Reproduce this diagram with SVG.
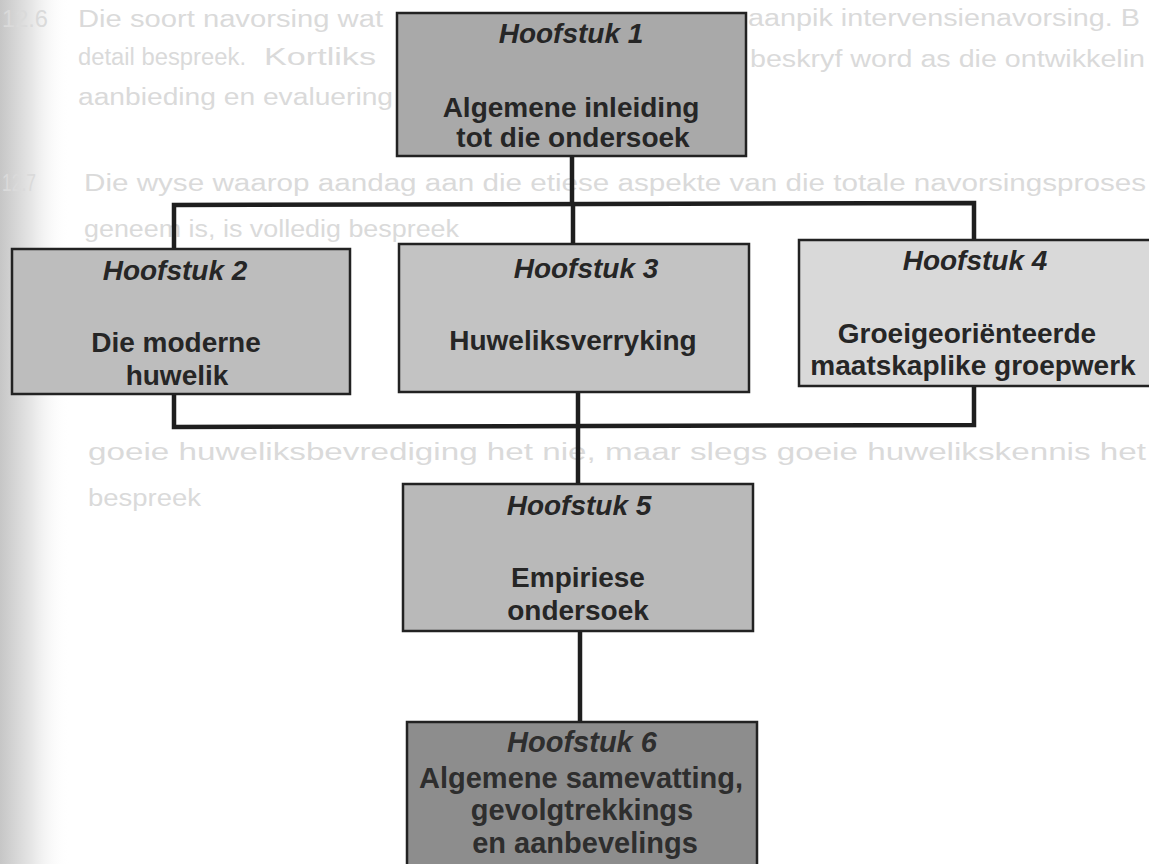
<svg xmlns="http://www.w3.org/2000/svg" width="1149" height="864" viewBox="0 0 1149 864">
  <defs>
    <linearGradient id="shadow" x1="0" y1="0" x2="1" y2="0">
      <stop offset="0" stop-color="#c6c6c6"/>
      <stop offset="0.45" stop-color="#e6e6e6"/>
      <stop offset="1" stop-color="#ffffff" stop-opacity="0"/>
    </linearGradient>
  </defs>
  <style>
    .ghost { font-family: "Liberation Sans", Arial, sans-serif; font-size: 23px; fill: #dadada; }
    .box { stroke: #222222; stroke-width: 2.5; }
    .head { font-family: "Liberation Sans", Arial, sans-serif; font-size: 28px; font-weight: bold; font-style: italic; fill: #262626; text-anchor: middle; }
    .body { font-family: "Liberation Sans", Arial, sans-serif; font-size: 28px; font-weight: bold; fill: #262626; text-anchor: middle; }
    .big { font-size: 29px; fill: #2e2e2e; }
    .conn { stroke: #1e1e1e; stroke-width: 4.5; fill: none; stroke-linejoin: miter; }
  </style>

  <rect x="0" y="0" width="1149" height="864" fill="#ffffff"/>
  <rect x="0" y="0" width="70" height="864" fill="url(#shadow)"/>

  <g id="background-text">
    <text class="ghost" x="2" y="27" textLength="46" lengthAdjust="spacingAndGlyphs">12.6</text>
    <text class="ghost" x="78" y="27" textLength="305" lengthAdjust="spacingAndGlyphs">Die soort navorsing wat</text>
    <text class="ghost" x="748" y="26" textLength="392" lengthAdjust="spacingAndGlyphs">aanpik intervensienavorsing. B</text>
    <text class="ghost" x="78" y="65" textLength="168" lengthAdjust="spacingAndGlyphs">detail bespreek.</text>
    <text class="ghost" x="264" y="65" textLength="112" lengthAdjust="spacingAndGlyphs">Kortliks</text>
    <text class="ghost" x="750" y="67" textLength="395" lengthAdjust="spacingAndGlyphs">beskryf word as die ontwikkelin</text>
    <text class="ghost" x="78" y="105" textLength="315" lengthAdjust="spacingAndGlyphs">aanbieding en evaluering</text>
    <text class="ghost" x="2" y="191" textLength="34" lengthAdjust="spacingAndGlyphs">12.7</text>
    <text class="ghost" x="84" y="191" textLength="1062" lengthAdjust="spacingAndGlyphs">Die wyse waarop aandag aan die etiese aspekte van die totale navorsingsproses</text>
    <text class="ghost" x="84" y="237" textLength="375" lengthAdjust="spacingAndGlyphs">geneem is, is volledig bespreek</text>
    <text class="ghost" x="88" y="460" textLength="1058" lengthAdjust="spacingAndGlyphs">goeie huweliksbevrediging het nie, maar slegs goeie huwelikskennis het</text>
    <text class="ghost" x="88" y="506" textLength="113" lengthAdjust="spacingAndGlyphs">bespreek</text>
  </g>

  <g id="connectors">
    <polyline class="conn" points="572,156 572,205"/>
    <polyline class="conn" points="174,249 174,205 974,203 974,240"/>
    <polyline class="conn" points="573,205 573,244"/>
    <polyline class="conn" points="174,394 174,427 974,425 974,386"/>
    <polyline class="conn" points="578,392 578,484"/>
    <polyline class="conn" points="580,631 580,722"/>
  </g>

  <g id="node-1">
    <rect class="box" x="397" y="13" width="349" height="143" fill="#a9a9a9"/>
    <text class="head" x="571" y="43">Hoofstuk 1</text>
    <text class="body" x="571" y="117">Algemene inleiding</text>
    <text class="body" x="573" y="147">tot die ondersoek</text>
  </g>

  <g id="node-2">
    <rect class="box" x="12" y="249" width="338" height="145" fill="#bdbdbd"/>
    <text class="head" x="175" y="280">Hoofstuk 2</text>
    <text class="body" x="176" y="352">Die moderne</text>
    <text class="body" x="177" y="385">huwelik</text>
  </g>

  <g id="node-3">
    <rect class="box" x="399" y="244" width="350" height="148" fill="#c3c3c3"/>
    <text class="head" x="586" y="278">Hoofstuk 3</text>
    <text class="body" x="573" y="350">Huweliksverryking</text>
  </g>

  <g id="node-4">
    <rect class="box" x="799" y="240" width="354" height="146" fill="#d9d9d9"/>
    <text class="head" x="975" y="270">Hoofstuk 4</text>
    <text class="body" x="967" y="343">Groeigeoriënteerde</text>
    <text class="body" x="973" y="375">maatskaplike groepwerk</text>
  </g>

  <g id="node-5">
    <rect class="box" x="403" y="484" width="350" height="147" fill="#b9b9b9"/>
    <text class="head" x="579" y="515">Hoofstuk 5</text>
    <text class="body" x="578" y="587">Empiriese</text>
    <text class="body" x="578" y="620">ondersoek</text>
  </g>

  <g id="node-6">
    <rect class="box" x="407" y="722" width="350" height="150" fill="#8d8d8d"/>
    <text class="head big" x="582" y="752">Hoofstuk 6</text>
    <text class="body big" x="581" y="788">Algemene samevatting,</text>
    <text class="body big" x="582" y="820">gevolgtrekkings</text>
    <text class="body big" x="585" y="853">en aanbevelings</text>
  </g>
</svg>
